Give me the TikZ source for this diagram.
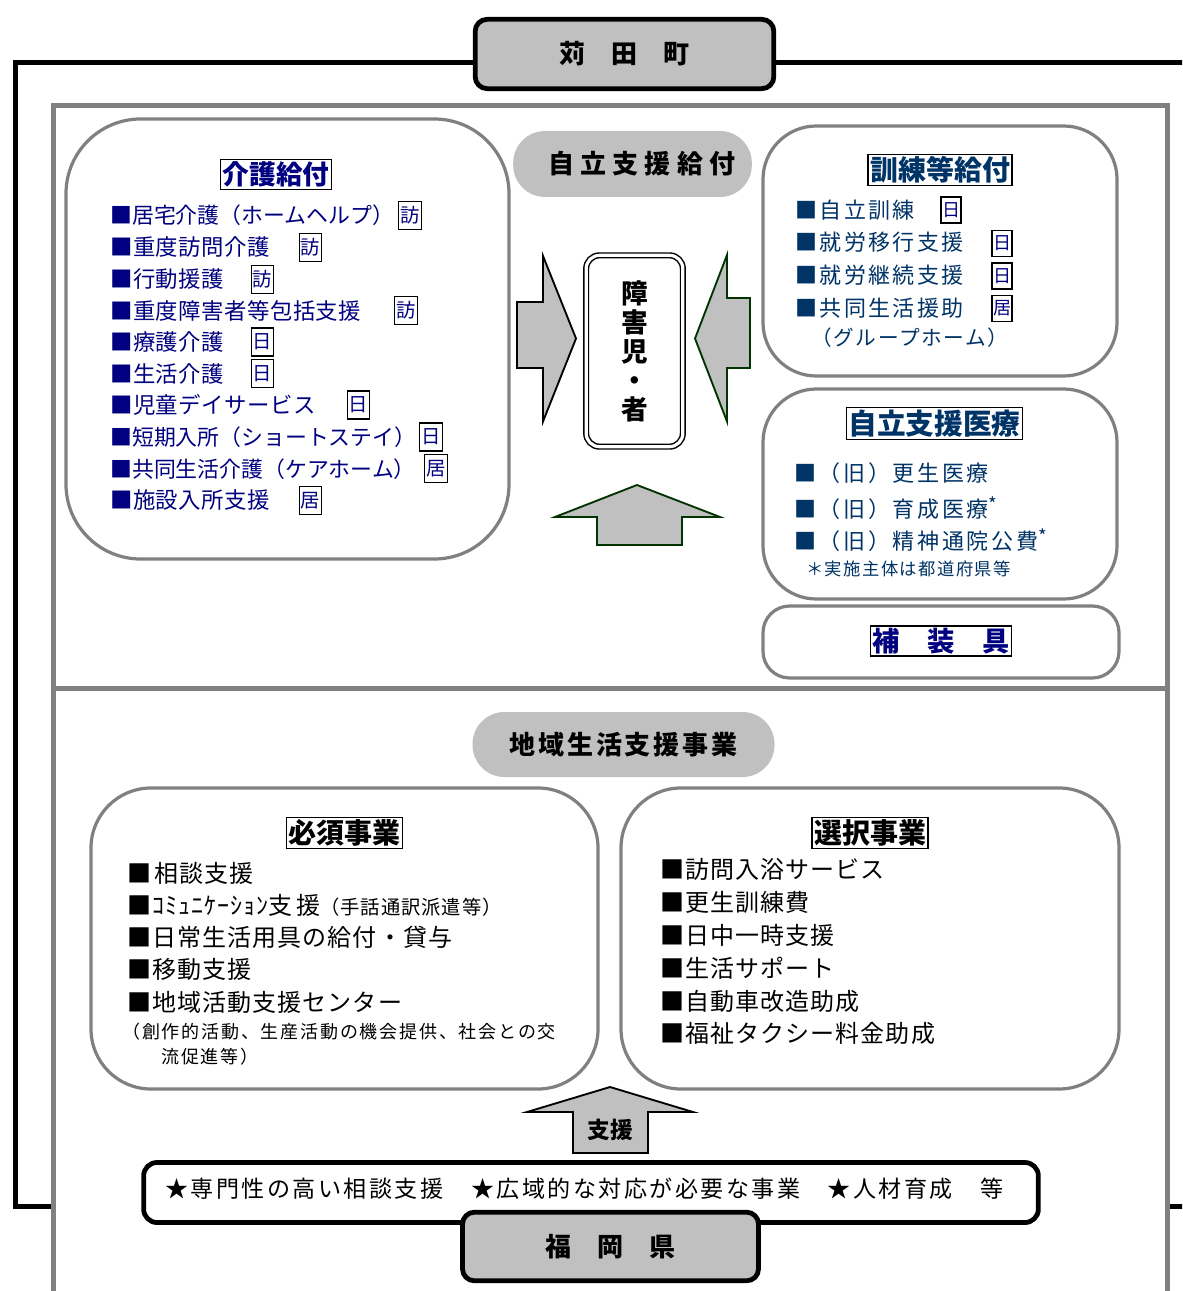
\documentclass[tikz,border=0pt]{standalone}
\usepackage{fontspec}
\setmainfont{Noto Sans CJK JP}
\definecolor{navy}{RGB}{0,0,128}
\definecolor{dblue}{RGB}{0,51,102}
\definecolor{fillg}{RGB}{192,192,192}
\definecolor{lineg}{RGB}{128,128,128}
\definecolor{dgreen}{RGB}{0,51,0}
\newcommand\fs[1]{\fontsize{#1}{#1}\selectfont}
\newcommand\ls[1]{\addfontfeature{LetterSpace=#1}}
\newcommand\myast{\raisebox{0.3em}{\fs{14}*}}
\begin{document}
\begin{tikzpicture}[x=0.75pt,y=-0.75pt,
  gbox/.style={draw=lineg, line width=2.4pt, fill=white},
  tbox/.style={draw=black, line width=3.6pt, fill=fillg, rounded corners=9pt, inner sep=0pt},
  ttl/.style={draw=black, line width=0.8pt, fill=white, inner sep=1.5pt},
  tag/.style={draw=black, line width=0.8pt, fill=white, inner sep=0pt, minimum width=17pt, minimum height=21pt, font=\fs{14.5}, text=navy},
  tagr/.style={tag, minimum width=15pt, minimum height=19.5pt, font=\fs{13.5}},
  item/.style={anchor=west, inner sep=0pt},
  pitem/.style={font=\fs{16.4}},
  pill/.style={fill=fillg, inner sep=0pt},
  blk/.style={fill=fillg, line width=1.4pt, line join=miter}
]
\useasboundingbox (0,0) rectangle (1182,1291);
\clip (0,0) rectangle (1182,1291);
% outer black frame (town)
\draw[line width=3.75pt] (15.5,62.5) rectangle (1200,1206.5);
% grey frame (prefecture), white filled
\draw[draw=lineg, line width=3.75pt, fill=white] (53.5,105.5) rectangle (1167.5,1320);
\draw[draw=lineg, line width=3.75pt] (53.5,688) -- (1167.5,688);
% town title
\node[tbox, minimum width=224pt, minimum height=52pt, font=\bfseries\fs{19.5}] (town) at (624.5,54) {苅　田　町};

% ---------- left box: 介護給付
\draw[gbox, rounded corners=56pt] (66,119) rectangle (509,559);
\node[ttl, text=navy, font=\bfseries\fs{20}] (kaigo) at (276,174.5) {介護給付};
\begin{scope}[every node/.append style={item, text=navy, font=\fs{16.8}\ls{2}}]
\node[pitem] (k1) at (110,215) {■居宅介護（ホームヘルプ）};
\node (k2) at (110,247) {■重度訪問介護};
\node (k3) at (110,279) {■行動援護};
\node (k4) at (110,311) {■重度障害者等包括支援};
\node (k5) at (110,342) {■療護介護};
\node (k6) at (110,374) {■生活介護};
\node (k7) at (110,405) {■児童デイサービス};
\node[pitem] (k8) at (110,437) {■短期入所（ショートステイ）};
\node[pitem] (k9) at (110,469) {■共同生活介護（ケアホーム）};
\node (k10) at (110,500) {■施設入所支援};
\end{scope}
\node[tag] (t1) at (410,215.5) {訪};
\node[tag] (t2) at (310.5,247.5) {訪};
\node[tag] (t3) at (262.5,279.5) {訪};
\node[tag] (t4) at (406,310.5) {訪};
\node[tag] (t5) at (262.5,342) {日};
\node[tag] (t6) at (262.5,373.5) {日};
\node[tag] (t7) at (358.5,405) {日};
\node[tag] (t8) at (431,437) {日};
\node[tag] (t9) at (436,468.5) {居};
\node[tag] (t10) at (310.5,500.5) {居};

% ---------- centre
\node[pill, rounded corners=24pt, minimum width=179pt, minimum height=49.5pt, font=\bfseries\fs{19.5}] (jiritsu) at (632.5,164) {\hspace{14pt}\ls{24}自立支援給付};
\node[draw=black, line width=1.1pt, double=white, double distance=2.4pt, rounded corners=10pt,
      minimum width=72.5pt, minimum height=143.5pt, inner sep=0pt, align=center,
      font=\bfseries\fontsize{20}{21.75}\selectfont] (person) at (634.5,351) {障\\害\\児\\・\\者};
\draw[blk, draw=black] (517,302) -- (543,302) -- (543,256) -- (576,338.5) -- (543,421.5) -- (543,368) -- (517,368) -- cycle;
\draw[blk, draw=dgreen] (750,298) -- (727,298) -- (727,255) -- (695,338.5) -- (727,421.5) -- (727,368) -- (750,368) -- cycle;
\draw[blk, draw=dgreen] (637,485) -- (720,517) -- (682,517) -- (682,545) -- (597,545) -- (597,517) -- (555,517) -- cycle;

% ---------- right column: 訓練等給付
\draw[gbox, rounded corners=40pt] (763,126) rectangle (1117,376);
\node[ttl, text=dblue, font=\bfseries\fs{21}] (kunren) at (940,170) {訓練等給付};
\begin{scope}[every node/.append style={item, text=dblue, font=\fs{16.5}\ls{11}}]
\node (r1) at (795,210) {■自立訓練};
\node (r2) at (795,242) {■就労移行支援};
\node (r3) at (795,275) {■就労継続支援};
\node (r4) at (795,308) {■共同生活援助};
\node[font=\fs{15.5}\ls{8}] (r5) at (811,338) {（グループホーム）};
\end{scope}
\node[tagr] (u1) at (951,210) {日};
\node[tagr] (u2) at (1002,243.5) {日};
\node[tagr] (u3) at (1002,276) {日};
\node[tagr] (u4) at (1002,308.5) {居};

% ---------- 自立支援医療
\draw[gbox, rounded corners=40pt] (763,389) rectangle (1117,599);
\node[ttl, text=dblue, font=\bfseries\fs{21.5}] (iryo) at (934.5,423.5) {自立支援医療};
\begin{scope}[every node/.append style={item, text=dblue, font=\fs{16.5}\ls{12}}]
\node (m1) at (794,473) {■（旧）更生医療};
\node (m2) at (794,508) {■（旧）育成医療\myast};
\node (m3) at (794,540) {■（旧）精神通院公費\myast};
\node[font=\fs{13}\ls{8}] (m4) at (806,569) {＊実施主体は都道府県等};
\end{scope}

% ---------- 補装具
\draw[gbox, rounded corners=20pt] (763,606) rectangle (1119,678);
\node[ttl, text=navy, font=\bfseries\fs{20.5}] (hosougu) at (941,641) {補　装　具};

% ---------- lower section
\node[pill, rounded corners=24pt, minimum width=226.5pt, minimum height=48.75pt, font=\bfseries\fs{19.5}] (chiiki) at (623.5,744.5) {\ls{11}地域生活支援事業};

\draw[gbox, rounded corners=45pt] (91,788) rectangle (598,1089);
\node[ttl, font=\bfseries\fs{21}] (hissu) at (344.5,833) {必須事業};
\begin{scope}[every node/.append style={item, font=\fs{18}\ls{4.5}}]
\node (h1) at (127,873) {■\hspace{2.5pt}相談支援};
\node (h2) at (127,905) {■ｺﾐｭﾆｹｰｼｮﾝ{\ls{15}支援}{\fs{14.5}（手話通訳派遣等）}};
\node (h3) at (127,937) {■日常生活用具の給付・貸与};
\node (h4) at (127,969) {■移動支援};
\node (h5) at (127,1002) {■地域活動支援センター};
\node[font=\fs{13.5}\ls{10}] (h6) at (122,1032) {（創作的活動、生産活動の機会提供、社会との交};
\node[font=\fs{13.5}\ls{10}] (h7) at (161,1057) {流促進等）};
\end{scope}

\draw[gbox, rounded corners=45pt] (621,788) rectangle (1119,1089);
\node[ttl, font=\bfseries\fs{21}] (sentaku) at (870,833) {選択事業};
\begin{scope}[every node/.append style={item, font=\fs{18}\ls{4.5}}]
\node (s1) at (660,869) {■訪問入浴サービス};
\node (s2) at (660,902) {■更生訓練費};
\node (s3) at (660,935) {■日中一時支援};
\node (s4) at (660,968) {■生活サポート};
\node (s5) at (660,1001) {■自動車改造助成};
\node (s6) at (660,1033) {■福祉タクシー料金助成};
\end{scope}

% ---------- support arrow
\draw[blk, draw=black] (610,1087) -- (693,1112) -- (648,1112) -- (648,1153) -- (573,1153) -- (573,1112) -- (527,1112) -- cycle;
\node[font=\bfseries\fs{17}] (shien) at (610.5,1130) {支援};

% ---------- prefecture
\node[draw=black, line width=3.6pt, fill=white, rounded corners=10pt, minimum width=671pt, minimum height=45pt, inner sep=0pt] (pbox) at (591,1192.5) {};
\node[font=\fs{17.3}\ls{10.5}, anchor=west, inner sep=0pt] (ptext) at (165,1189) {★専門性の高い相談支援　★広域的な対応が必要な事業　★人材育成　等};
\node[tbox, minimum width=222pt, minimum height=51.5pt, font=\bfseries\fs{19.5}] (pref) at (610.5,1246.5) {福　岡　県};
\end{tikzpicture}
\end{document}
